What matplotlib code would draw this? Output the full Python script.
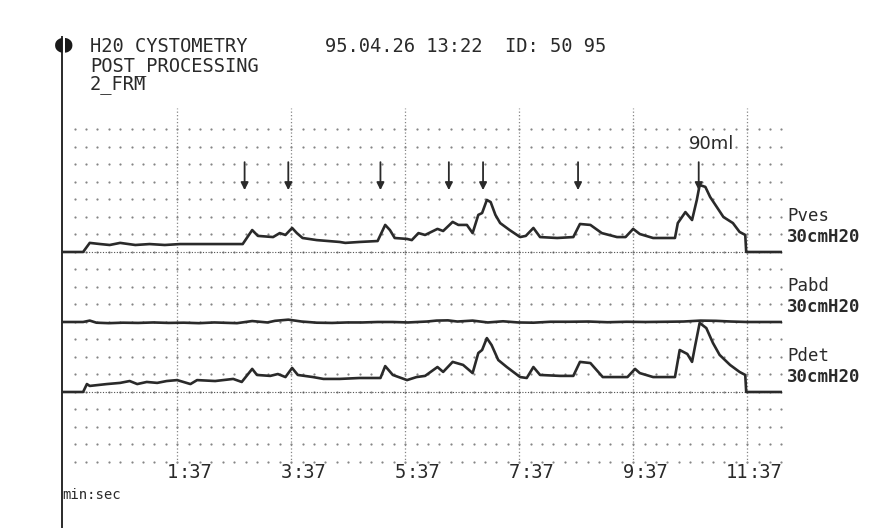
import numpy as np
import matplotlib
matplotlib.use("Agg")
import matplotlib.pyplot as plt

plt.rcParams["lines.scale_dashes"] = False

# time in seconds from start of filling, pressures in cmH2O
pves_t = [-24, -2, 5, 16, 26, 37, 53, 68, 84, 100, 121, 166, 176, 182, 198, 205, 211,
          218, 223, 229, 244, 268, 274, 289, 308, 316, 321, 326, 339, 344, 351, 358,
          371, 377, 387, 393, 402, 408, 414, 418, 423, 427, 432, 437, 447, 458, 464,
          472, 479, 497, 514, 521, 532, 544, 560, 569, 577, 584, 598, 621, 624, 632,
          639, 644, 647, 653, 658, 665, 672, 682, 689, 695, 696, 734]
pves_p = [0, 0, 3.9, 3.4, 3.0, 3.9, 3.0, 3.4, 3.0, 3.4, 3.4, 3.4, 9.4, 6.9, 6.4, 8.1, 7.3,
          10.3, 8.1, 6.0, 5.1, 4.3, 3.9, 4.3, 4.7, 11.6, 9.4, 6.0, 5.6, 5.1, 8.1, 7.3,
          9.9, 9.0, 12.9, 11.6, 11.6, 8.1, 15.9, 16.7, 22.3, 21.4, 15.9, 12.4, 9.4, 6.4, 6.9,
          10.3, 6.4, 6.0, 6.4, 12.0, 11.6, 8.1, 6.4, 6.4, 9.9, 7.7, 6.0, 6.0, 12.4, 17.1,
          13.7, 22.3, 28.7, 27.9, 23.6, 19.3, 15.0, 12.4, 8.6, 7.3, 0, 0]

pabd_t = [-24, -2, 5, 12, 25, 40, 56, 72, 88, 104, 120, 136, 152, 160, 176, 192, 200,
          214, 228, 244, 260, 276, 292, 308, 324, 340, 360, 370, 382, 392, 408, 424,
          440, 456, 472, 490, 510, 530, 550, 570, 590, 612, 630, 648, 664, 680, 697, 734]
pabd_p = [0, 0, 0.6, -0.3, -0.5, -0.3, -0.4, -0.2, -0.4, -0.3, -0.5, -0.2, -0.4, -0.5,
          0.4, -0.2, 0.5, 1.0, 0.2, -0.3, -0.4, -0.2, -0.2, 0, 0, -0.2, 0.2, 0.6, 0.7,
          0.2, 0.6, -0.2, 0.3, -0.2, -0.3, 0.1, 0.1, 0.2, -0.1, 0.1, 0, 0.1, 0.2, 0.6,
          0.5, 0.2, 0, 0]

pdet_t = [-24, -2, 2, 5, 23, 37, 47, 55, 65, 76, 86, 97, 111, 118, 137, 156, 165, 176,
          181, 195, 203, 211, 218, 224, 240, 251, 268, 289, 311, 316, 324, 339, 349,
          358, 371, 377, 387, 398, 408, 414, 418, 423, 428, 435, 444, 458, 465, 472,
          479, 500, 514, 521, 532, 545, 571, 579, 584, 598, 621, 626, 634, 639, 642,
          647, 654, 661, 668, 679, 689, 695, 696, 734]
pdet_p = [0, 0, 3.4, 2.6, 3.4, 3.9, 4.7, 3.4, 4.3, 3.9, 4.7, 5.1, 3.4, 5.1, 4.7, 5.6, 4.3,
          9.9, 7.3, 6.9, 7.7, 6.4, 10.3, 7.3, 6.4, 5.6, 5.6, 6.0, 6.0, 11.1, 7.3, 5.1,
          6.4, 6.9, 10.7, 8.6, 12.9, 11.6, 8.1, 16.7, 18.0, 23.1, 20.1, 13.7, 10.7, 6.4,
          6.0, 10.7, 7.3, 6.9, 6.9, 12.9, 12.4, 6.4, 6.4, 9.9, 8.1, 6.4, 6.4, 18.0, 16.3,
          12.9, 19.3, 29.6, 27.4, 21.0, 15.9, 11.6, 8.6, 7.3, 0, 0]

# event markers (s) and filled volume note
event_t = [168, 214, 311, 383, 419, 519, 646]
volume_note = "90ml"
volume_t = 660

tick_t = [97, 217, 337, 457, 577, 697]
tick_min = ["1", "3", "5", "7", "9", "11"]
tick_sec = ":37"

channels = ["Pves", "Pabd", "Pdet"]
channel_scale = "30cmH20"
channel_offset = [60, 30, 0]

INK = "#2a2a2a"
DOT = "#858585"
MONO = "DejaVu Sans Mono"


def draw_grid(ax):
    rows = np.arange(-4, 16) * 7.5
    dots_t = np.arange(-11, 734, 12)
    gx, gy = np.meshgrid(dots_t, rows)
    ax.plot(gx.ravel(), gy.ravel(), ls="none", marker="o", ms=1.6, mew=0, color=DOT)
    for t in tick_t:
        ax.vlines(t, -30.5, 121.5, colors=DOT, lw=0.9, linestyles=(0, (0.9, 1.6)))
    # zero lines of the vesical and detrusor channels
    ax.hlines([0, 60], -2, 734, colors="#555555", lw=0.8, linestyles=(0, (0.8, 1.2)))


def draw_traces(ax):
    for t, p, off in [(pves_t, pves_p, 60), (pabd_t, pabd_p, 30), (pdet_t, pdet_p, 0)]:
        ax.plot(t, np.array(p) + off, color=INK, lw=1.9, solid_joinstyle="round")

    for t in event_t:
        ax.annotate("", xy=(t, 86.5), xytext=(t, 98.5),
                    arrowprops=dict(arrowstyle="-|>", color=INK, lw=1.3,
                                    mutation_scale=11, shrinkA=0, shrinkB=0))
    ax.text(volume_t, 106.3, volume_note, ha="center", va="center",
            fontsize=13, color=INK, family="DejaVu Sans")


def draw_labels(fig, ax):
    for t, m in zip(tick_t, tick_min):
        ax.text(t + 1, -34.7, m, ha="right", va="center", fontsize=13.5,
                family=MONO, color=INK)
        ax.text(t + 1, -34.7, tick_sec, ha="left", va="center", fontsize=13.5,
                family=MONO, color=INK)
    ax.text(-24, -44.1, "min:sec", ha="left", va="center", fontsize=10,
            family=MONO, color=INK)

    for name, off in zip(channels, channel_offset):
        ax.text(739, off + 15.4, name, ha="left", va="center", fontsize=12.5,
                family=MONO, color=INK, clip_on=False)
        ax.text(739, off + 6.4, channel_scale, ha="left", va="center", fontsize=12.5,
                family=MONO, weight="bold", color=INK, clip_on=False)

    W, H = 875, 531
    fig.text(64 / W, 1 - 44 / H, "\u25d6\u25d7", ha="center", va="center",
             fontsize=14, color="#1a1a1a", family="DejaVu Sans")
    header = ["H20 CYSTOMETRY", "POST_PROCESSING", "2_FRM"]
    for i, line in enumerate(header):
        fig.text(90 / W, 1 - (47 + 19 * i) / H, line, ha="left", va="center",
                 fontsize=13.5, family=MONO, color=INK)
    fig.text(325 / W, 1 - 47 / H, "95.04.26 13:22  ID: 50 95", ha="left",
             va="center", fontsize=13.5, family=MONO, color=INK)


def main():
    W, H = 875, 531
    fig = plt.figure(figsize=(W / 100, H / 100), dpi=100)
    fig.patch.set_facecolor("white")
    ax = fig.add_axes([62 / W, 1 - 527 / H, (782 - 62) / W, (527 - 37) / H])
    ax.set_xlim(-24.21, 733.68)
    ax.set_ylim(-57.86, 152.14)
    for side in ["top", "right", "bottom"]:
        ax.spines[side].set_visible(False)
    ax.spines["left"].set_linewidth(1.4)
    ax.spines["left"].set_color(INK)
    ax.set_xticks([])
    ax.set_yticks([])
    ax.patch.set_alpha(0)

    draw_grid(ax)
    draw_traces(ax)
    draw_labels(fig, ax)

    fig.savefig("out.png", dpi=100)


if __name__ == "__main__":
    main()
